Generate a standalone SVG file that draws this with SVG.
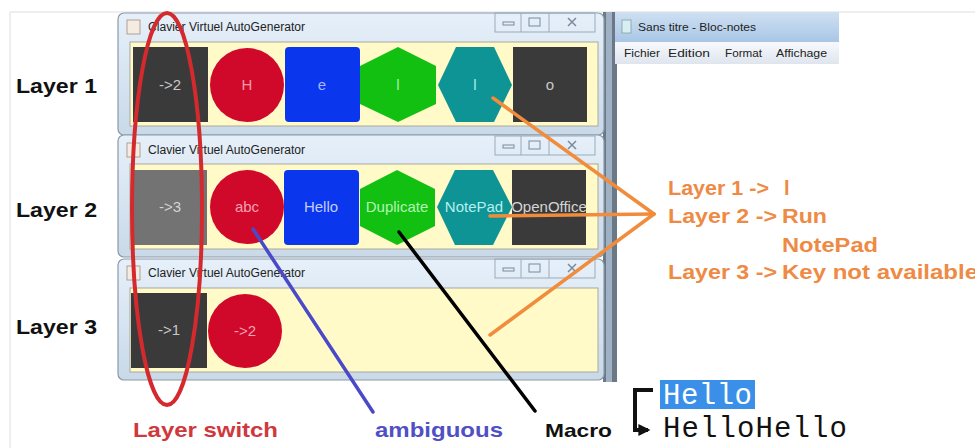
<svg xmlns="http://www.w3.org/2000/svg" width="975" height="448" viewBox="0 0 975 448">
<defs>
<linearGradient id="frame" x1="0" y1="0" x2="0" y2="1">
<stop offset="0" stop-color="#e6f0fa"/><stop offset="1" stop-color="#c9d9e8"/>
</linearGradient>
<linearGradient id="npTitle" x1="0" y1="0" x2="0" y2="1">
<stop offset="0" stop-color="#cfe0f2"/><stop offset="1" stop-color="#a9c6e6"/>
</linearGradient>
<linearGradient id="npMenu" x1="0" y1="0" x2="0" y2="1">
<stop offset="0" stop-color="#f7f9fc"/><stop offset="1" stop-color="#dfe5ee"/>
</linearGradient>
<marker id="bk" viewBox="0 0 10 10" refX="8" refY="5" markerWidth="3" markerHeight="3" orient="auto">
<path d="M0,0 L10,5 L0,10 z" fill="#111"/>
</marker>
</defs>
<style>
.win{fill:url(#frame);stroke:#8b9aa8;stroke-width:1.2}
.panel{fill:#fffac8;stroke:#a8a8a0;stroke-width:1}
.title{font-family:"Liberation Sans",Arial,sans-serif;font-size:12px;fill:#222}
.np{font-family:"Liberation Sans",Arial,sans-serif;font-size:11.5px;fill:#222}
.btns{fill:none;stroke:#9aabbc;stroke-width:1}
.key{font-family:"Liberation Sans",Arial,sans-serif;font-size:15px;text-anchor:middle}
.lbl{font-family:"Liberation Sans",Arial,sans-serif;font-weight:bold;font-size:21px;fill:#111}
.or{font-family:"Liberation Sans",Arial,sans-serif;font-weight:bold;font-size:20px;fill:#ee8a44}
.dark{fill:#3a3a3a}
.red{fill:#d0092b}
.blue{fill:#0a36ee}
.green{fill:#12c012}
.teal{fill:#0e9494}
.mono{font-family:"Liberation Mono","Courier New",monospace;font-size:29px}
</style>
<rect x="0" y="0" width="975" height="448" fill="#ffffff"/>
<path d="M10,448 L10,12 L975,12" fill="none" stroke="#dedede" stroke-width="1"/>

<!-- Notepad window -->
<g id="notepad">
<rect x="603" y="12" width="14" height="370" fill="#6b7886"/>
<rect x="606" y="12" width="6" height="370" fill="#9fb1c4"/>
<rect x="615" y="12" width="224" height="30" fill="url(#npTitle)"/>
<rect x="622" y="20" width="9" height="13" fill="#d9eef0" stroke="#7fa0a8" stroke-width="0.8"/>
<text x="638" y="31" class="np" textLength="118" lengthAdjust="spacingAndGlyphs">Sans titre - Bloc-notes</text>
<rect x="615" y="42" width="224" height="22" fill="url(#npMenu)"/>
<text x="624" y="57" class="np" textLength="36" lengthAdjust="spacingAndGlyphs">Fichier</text>
<text x="668" y="57" class="np" textLength="42" lengthAdjust="spacingAndGlyphs">Edition</text>
<text x="725" y="57" class="np" textLength="37" lengthAdjust="spacingAndGlyphs">Format</text>
<text x="776" y="57" class="np" textLength="51" lengthAdjust="spacingAndGlyphs">Affichage</text>
</g>

<!-- Window 1 -->
<g id="window1">
<rect x="118" y="13" width="486" height="122" rx="6" class="win"/>
<rect x="127" y="20" width="13" height="14" fill="#f4ece0" stroke="#a09080" stroke-width="0.8"/>
<text x="148" y="31" class="title" textLength="157" lengthAdjust="spacingAndGlyphs">Clavier Virtuel AutoGenerator</text>
<rect x="495" y="13" width="100" height="19" class="btns"/>
<line x1="521" y1="13" x2="521" y2="32" stroke="#9aabbc"/>
<line x1="549" y1="13" x2="549" y2="32" stroke="#9aabbc"/>
<rect x="503" y="22" width="11" height="3" fill="none" stroke="#7a8a9a"/>
<rect x="529" y="18" width="11" height="8" fill="none" stroke="#7a8a9a"/>
<path d="M568,18 L576,26 M576,18 L568,26" stroke="#7a8a9a" stroke-width="1.5"/>
<rect x="130" y="42" width="468" height="84" class="panel"/>
</g>
<g id="l1-k1"><rect x="133" y="47" width="75" height="75" class="dark"/><text x="170" y="90" class="key" fill="#c8c8c8">-&gt;2</text></g>
<g id="l1-k2"><circle cx="247" cy="85" r="37" class="red"/><text x="247" y="90" class="key" fill="#f49aaa">H</text></g>
<g id="l1-k3"><rect x="285" y="47" width="75" height="75" rx="4" class="blue"/><text x="322" y="90" class="key" fill="#a8b4ff">e</text></g>
<g id="l1-k4"><polygon points="398,47 436,66 436,104 398,122 360,104 360,66" class="green"/><text x="398" y="90" class="key" fill="#a8f0a8">l</text></g>
<g id="l1-k5"><polygon points="456,47 494,47 512,85 494,122 456,122 438,85" class="teal"/><text x="475" y="90" class="key" fill="#a8eeee">l</text></g>
<g id="l1-k6"><rect x="513" y="47" width="74" height="75" class="dark"/><text x="550" y="90" class="key" fill="#c8c8c8">o</text></g>

<!-- Window 2 -->
<g id="window2">
<rect x="118" y="135" width="486" height="122" rx="6" class="win"/>
<rect x="127" y="143" width="13" height="14" fill="#f4ece0" stroke="#a09080" stroke-width="0.8"/>
<text x="148" y="154" class="title" textLength="157" lengthAdjust="spacingAndGlyphs">Clavier Virtuel AutoGenerator</text>
<rect x="495" y="136" width="100" height="19" class="btns"/>
<line x1="521" y1="136" x2="521" y2="155" stroke="#9aabbc"/>
<line x1="549" y1="136" x2="549" y2="155" stroke="#9aabbc"/>
<rect x="503" y="145" width="11" height="3" fill="none" stroke="#7a8a9a"/>
<rect x="529" y="141" width="11" height="8" fill="none" stroke="#7a8a9a"/>
<path d="M568,141 L576,149 M576,141 L568,149" stroke="#7a8a9a" stroke-width="1.5"/>
<rect x="130" y="164" width="468" height="85" class="panel"/>
</g>
<g id="l2-k1"><rect x="132" y="170" width="75" height="75" fill="#737373"/><text x="170" y="212" class="key" fill="#d4d4d4">-&gt;3</text></g>
<g id="l2-k2"><circle cx="247" cy="207" r="37" class="red"/><text x="247" y="212" class="key" fill="#f4a0b0">abc</text></g>
<g id="l2-k3"><rect x="284" y="170" width="75" height="75" rx="4" class="blue"/><text x="321" y="212" class="key" fill="#c4ccff">Hello</text></g>
<g id="l2-k4"><polygon points="397,170 435,189 435,226 397,245 360,226 360,189" class="green"/><text x="397" y="212" class="key" fill="#b4f4b4">Duplicate</text></g>
<g id="l2-k5"><polygon points="455,170 493,170 512,207 493,245 455,245 437,207" class="teal"/><text x="474" y="212" class="key" fill="#b4f0f0">NotePad</text></g>
<g id="l2-k6"><rect x="512" y="170" width="74" height="75" class="dark"/><text x="549" y="212" class="key" fill="#d4d4d4">OpenOffice</text></g>

<!-- Window 3 -->
<g id="window3">
<rect x="118" y="259" width="486" height="121" rx="6" class="win"/>
<rect x="127" y="266" width="13" height="14" fill="#f4ece0" stroke="#a09080" stroke-width="0.8"/>
<text x="148" y="277" class="title" textLength="157" lengthAdjust="spacingAndGlyphs">Clavier Virtuel AutoGenerator</text>
<rect x="495" y="259" width="100" height="19" class="btns"/>
<line x1="521" y1="259" x2="521" y2="278" stroke="#9aabbc"/>
<line x1="549" y1="259" x2="549" y2="278" stroke="#9aabbc"/>
<rect x="503" y="268" width="11" height="3" fill="none" stroke="#7a8a9a"/>
<rect x="529" y="264" width="11" height="8" fill="none" stroke="#7a8a9a"/>
<path d="M568,264 L576,272 M576,264 L568,272" stroke="#7a8a9a" stroke-width="1.5"/>
<rect x="130" y="288" width="468" height="84" class="panel"/>
</g>
<g id="l3-k1"><rect x="131" y="293" width="76" height="75" class="dark"/><text x="169" y="335" class="key" fill="#c8c8c8">-&gt;1</text></g>
<g id="l3-k2"><circle cx="245" cy="331" r="37" class="red"/><text x="245" y="336" class="key" fill="#f4a0b0">-&gt;2</text></g>

<!-- Layer labels -->
<g id="labels">
<text x="16" y="93" class="lbl" textLength="81" lengthAdjust="spacingAndGlyphs">Layer 1</text>
<text x="16" y="217" class="lbl" textLength="81" lengthAdjust="spacingAndGlyphs">Layer 2</text>
<text x="16" y="334" class="lbl" textLength="81" lengthAdjust="spacingAndGlyphs">Layer 3</text>
</g>

<!-- Connectors -->
<g id="connectors" fill="none" stroke-linecap="round">
<ellipse cx="167" cy="209" rx="35" ry="196" stroke="#d42a2e" stroke-width="4"/>
<line x1="253" y1="229" x2="373" y2="412" stroke="#4a4ac8" stroke-width="3.5"/>
<line x1="399" y1="232" x2="535" y2="411" stroke="#000" stroke-width="3.5"/>
<line x1="493" y1="98" x2="654" y2="214" stroke="#f08c3c" stroke-width="3.5"/>
<line x1="490" y1="216" x2="654" y2="214" stroke="#f08c3c" stroke-width="3.5"/>
<line x1="490" y1="335" x2="654" y2="214" stroke="#f08c3c" stroke-width="3.5"/>
<path d="M653,390 L635,390 L635,430 L648,430" stroke="#111" stroke-width="4" stroke-linecap="butt" marker-end="url(#bk)"/>
</g>

<!-- Annotations -->
<g id="annotations">
<text x="133" y="437" class="lbl" style="fill:#d0383c" textLength="145" lengthAdjust="spacingAndGlyphs">Layer switch</text>
<text x="375" y="437" class="lbl" style="fill:#5050c4" textLength="128" lengthAdjust="spacingAndGlyphs">ambiguous</text>
<text x="545" y="437" class="lbl" style="font-size:19px" textLength="67" lengthAdjust="spacingAndGlyphs">Macro</text>
<text x="668" y="195" class="or" textLength="101" lengthAdjust="spacingAndGlyphs">Layer 1 -&gt;</text>
<text x="784" y="195" class="or">l</text>
<text x="668" y="223" class="or" textLength="109" lengthAdjust="spacingAndGlyphs">Layer 2 -&gt;</text>
<text x="782" y="223" class="or" textLength="45" lengthAdjust="spacingAndGlyphs">Run</text>
<text x="782" y="252" class="or" textLength="96" lengthAdjust="spacingAndGlyphs">NotePad</text>
<text x="668" y="279" class="or" textLength="109" lengthAdjust="spacingAndGlyphs">Layer 3 -&gt;</text>
<text x="782" y="279" class="or" textLength="196" lengthAdjust="spacingAndGlyphs">Key not available</text>
</g>

<g id="notepad-text">
<rect x="660" y="380" width="95" height="29" fill="#3a8fe8"/>
<text x="663" y="404" class="mono" fill="#ffffff" textLength="89" lengthAdjust="spacing">Hello</text>
<text x="663" y="437" class="mono" fill="#111" textLength="184" lengthAdjust="spacing">HelloHello</text>
</g>
</svg>
